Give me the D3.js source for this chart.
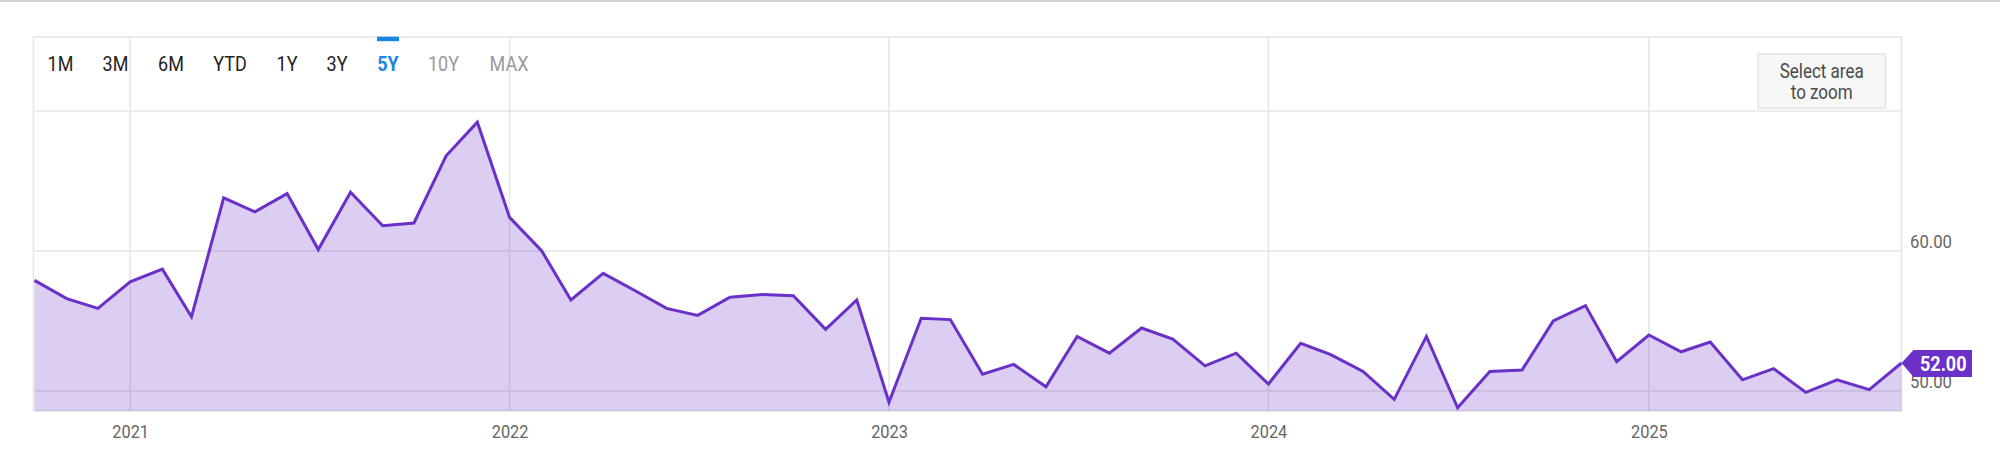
<!DOCTYPE html>
<html>
<head>
<meta charset="utf-8">
<script src="https://cdn.jsdelivr.net/npm/d3@7"></script>
<style>
  html, body { margin: 0; padding: 0; background: #fff; }
  svg { display: block; font-family: Roboto, "Noto Sans", sans-serif; }
</style>
</head>
<body>
<svg id="chart" width="2000" height="457"></svg>
<script>
// ---------------- data ----------------
const months = [
  "2020-10","2020-11","2020-12",
  "2021-01","2021-02","2021-03","2021-04","2021-05","2021-06","2021-07","2021-08","2021-09","2021-10","2021-11","2021-12",
  "2022-01","2022-02","2022-03","2022-04","2022-05","2022-06","2022-07","2022-08","2022-09","2022-10","2022-11","2022-12",
  "2023-01","2023-02","2023-03","2023-04","2023-05","2023-06","2023-07","2023-08","2023-09","2023-10","2023-11","2023-12",
  "2024-01","2024-02","2024-03","2024-04","2024-05","2024-06","2024-07","2024-08","2024-09","2024-10","2024-11","2024-12",
  "2025-01","2025-02","2025-03","2025-04","2025-05","2025-06","2025-07","2025-08","2025-09"
];
const values = [
  57.9, 56.6, 55.9,
  57.8, 58.7, 55.3, 63.8, 62.8, 64.1, 60.1, 64.2, 61.8, 62.0, 66.8, 69.2,
  62.4, 60.0, 56.5, 58.4, 57.2, 55.9, 55.4, 56.7, 56.9, 56.8, 54.4, 56.5,
  49.2, 55.2, 55.1, 51.2, 51.9, 50.3, 53.9, 52.7, 54.5, 53.7, 51.8, 52.7,
  50.5, 53.4, 52.6, 51.4, 49.4, 53.9, 48.8, 51.4, 51.5, 55.0, 56.1, 52.1,
  54.0, 52.8, 53.5, 50.8, 51.6, 49.9, 50.8, 50.1, 52.0
];
const yearTicks = ["2021-01", "2022-01", "2023-01", "2024-01", "2025-01"];
const yGridTicks = [50, 60, 70];
const yLabelTicks = [50, 60];
const rangeButtons = ["1M", "3M", "6M", "YTD", "1Y", "3Y", "5Y", "10Y", "MAX"];
const activeButton = "5Y";
const disabledButtons = ["10Y", "MAX"];
const zoomText = ["Select area", "to zoom"];

// ---------------- setup ----------------
const parse = d3.timeParse("%Y-%m");
const data = months.map((m, i) => ({ date: parse(m), value: values[i] }));

const svg = d3.select("#chart");
const pLeft = 34.5, pRight = 1901.5, pTop = 37, pBottom = 411;

const x = d3.scaleTime()
  .domain([parse("2020-10"), parse("2025-09")])
  .range([pLeft, pRight]);
const y = d3.scaleLinear()
  .domain([48.571, 75.286])
  .range([pBottom, pTop]);

function condense(sel, f) {
  sel.each(function () {
    const w = this.getComputedTextLength();
    this.setAttribute("textLength", (w * f).toFixed(2));
    this.setAttribute("lengthAdjust", "spacingAndGlyphs");
  });
}

const GRID = "#e6e6e6";

// top page rule
svg.append("rect").attr("x", 0).attr("y", 0).attr("width", 2000).attr("height", 2).attr("fill", "#d2d2d2");

// grid lines
svg.append("g").selectAll("line").data(yGridTicks).join("line")
  .attr("x1", pLeft).attr("x2", pRight)
  .attr("y1", d => y(d)).attr("y2", d => y(d))
  .attr("stroke", GRID).attr("stroke-width", 1.6);

svg.append("g").selectAll("line").data(yearTicks.map(parse)).join("line")
  .attr("x1", d => x(d)).attr("x2", d => x(d))
  .attr("y1", pTop).attr("y2", pBottom)
  .attr("stroke", GRID).attr("stroke-width", 1.6);

// frame
svg.append("rect")
  .attr("x", pLeft - 1).attr("y", pTop).attr("width", pRight - pLeft + 1).attr("height", pBottom - pTop)
  .attr("fill", "none").attr("stroke", GRID).attr("stroke-width", 1.6);

// area + line
const area = d3.area().x(d => x(d.date)).y0(pBottom).y1(d => y(d.value));
const line = d3.line().x(d => x(d.date)).y(d => y(d.value));

svg.append("path").datum(data).attr("d", area)
  .attr("fill", "rgba(106, 50, 201, 0.24)");
svg.append("path").datum(data).attr("d", line)
  .attr("fill", "none").attr("stroke", "#6a30c8").attr("stroke-width", 3)
  .attr("stroke-linejoin", "miter");

// x axis
const xAxis = svg.append("g").attr("transform", `translate(0,${pBottom})`)
  .call(d3.axisBottom(x).tickValues(yearTicks.map(parse)).tickFormat(d3.timeFormat("%Y")).tickSize(0));
xAxis.select(".domain").remove();
xAxis.selectAll("text")
  .attr("y", 27).attr("dy", 0)
  .attr("font-family", "Roboto").attr("font-size", 19).attr("fill", "#666")
  .call(condense, 0.86);

// y axis labels (right)
const yAxis = svg.append("g").attr("transform", `translate(${pRight},0)`)
  .call(d3.axisRight(y).tickValues(yLabelTicks).tickFormat(d3.format(".2f")).tickSize(0));
yAxis.select(".domain").remove();
yAxis.selectAll("text")
  .attr("x", 8.5).attr("dy", 0).attr("y", -3.5)
  .attr("text-anchor", "start")
  .attr("font-family", "Roboto").attr("font-size", 19).attr("fill", "#666")
  .call(condense, 0.88);

// range selector buttons
const btnCenters = [60.5, 115.5, 171, 230, 287, 337, 388, 443.5, 509];
const btn = svg.append("g");
rangeButtons.forEach((b, i) => {
  const t = btn.append("text")
    .attr("x", btnCenters[i]).attr("y", 71)
    .attr("text-anchor", "middle")
    .attr("font-family", "Roboto").attr("font-size", 20)
    .attr("font-weight", b === activeButton ? 700 : 400)
    .attr("fill", b === activeButton ? "#1a86e3" : (disabledButtons.includes(b) ? "#9a9a9a" : "#222"))
    .text(b);
  condense(t, 0.9);
  if (b === activeButton) {
    btn.append("rect").attr("x", btnCenters[i] - 11).attr("y", 36.7).attr("width", 22).attr("height", 4.5)
      .attr("fill", "#1a86e3");
  }
});

// select area to zoom box
const zb = svg.append("g");
zb.append("rect").attr("x", 1758).attr("y", 54).attr("width", 127.5).attr("height", 54)
  .attr("fill", "#f6f7f7").attr("stroke", "#e3e3e3").attr("stroke-width", 1.5);
zoomText.forEach((s, i) => {
  zb.append("text").attr("x", 1821.7).attr("y", 77.5 + i * 21)
    .attr("text-anchor", "middle")
    .attr("font-family", "Roboto").attr("font-size", 20).attr("fill", "#4a4a4a")
    .text(s).call(condense, 0.85);
});

// last value label
const last = data[data.length - 1];
const tx = x(last.date), ty = y(last.value);
const bx0 = tx + 12, bx1 = 1972, by0 = ty - 13, by1 = ty + 14;
svg.append("path")
  .attr("d", `M${tx},${ty} L${bx0},${by0} L${bx1},${by0} L${bx1},${by1} L${bx0},${by1} Z`)
  .attr("fill", "#6a30c8");
svg.append("text")
  .attr("x", (bx0 + bx1) / 2 + 0.5).attr("y", ty + 8.5)
  .attr("text-anchor", "middle")
  .attr("font-family", "Roboto").attr("font-size", 20).attr("font-weight", 700).attr("fill", "#fff")
  .text(d3.format(".2f")(last.value))
  .call(condense, 0.9);
</script>
</body>
</html>
